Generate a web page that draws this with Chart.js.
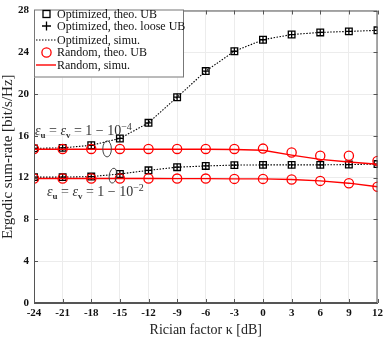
<!DOCTYPE html>
<html>
<head>
<meta charset="utf-8">
<script src="https://cdn.jsdelivr.net/npm/chart.js@4/dist/chart.umd.min.js"></script>
<style>
  html, body { margin: 0; padding: 0; background: #fff; }
  canvas { display: block; }
</style>
</head>
<body>
<canvas id="js-canvas-rate" width="388" height="337"></canvas>
<script>
// Rician factor kappa [dB] along the x-axis
const kappa = [-24, -21, -18, -15, -12, -9, -6, -3, 0, 3, 6, 9, 12];
// Optimized phase shifts: theo. UB, loose UB and simulation coincide
const optHigh = [14.8, 14.85, 15.1, 15.75, 17.25, 19.7, 22.2, 24.1, 25.2, 25.7, 25.9, 26.0, 26.1];
const optLow = [12.05, 12.05, 12.1, 12.35, 12.7, 13.0, 13.12, 13.2, 13.22, 13.22, 13.22, 13.25, 13.3];
// Random phase shifts
const randHighTheo = [14.75, 14.75, 14.75, 14.75, 14.75, 14.75, 14.75, 14.75, 14.78, 14.4, 14.1, 14.1, 13.6];
const randHighSim = [14.72, 14.72, 14.72, 14.72, 14.72, 14.72, 14.72, 14.7, 14.62, 14.16, 13.75, 13.5, 13.28];
const randLowTheo = [11.92, 11.92, 11.92, 11.92, 11.92, 11.91, 11.91, 11.88, 11.88, 11.82, 11.69, 11.47, 11.13];
const randLowSim = [11.92, 11.92, 11.92, 11.92, 11.92, 11.91, 11.91, 11.88, 11.88, 11.82, 11.69, 11.47, 11.13];
// axis ranges
const xRange = [-24, 12, 3];
const yRange = [0, 28, 4];

const serif = "'Liberation Serif', 'Times New Roman', serif";
Chart.defaults.font.family = serif;
Chart.defaults.color = '#222';

const pts = ys => kappa.map((k, i) => ({ x: k, y: ys[i] }));

const black = '#000';
const red = '#ff0000';

const squares = ys => ({ data: pts(ys), showLine: false, pointStyle: 'rect', pointRadius: 4.7,
  borderColor: black, backgroundColor: 'transparent', pointBorderWidth: 1.3, order: 2 });
const crosses = ys => ({ data: pts(ys), showLine: false, pointStyle: 'cross', pointRadius: 3.4,
  borderColor: black, pointBorderWidth: 1.3, order: 2 });
const dotted = ys => ({ data: pts(ys), borderColor: black, borderWidth: 1.1, borderDash: [1.5, 1.5],
  pointRadius: 0, fill: false, order: 3 });
const circles = ys => ({ data: pts(ys), showLine: false, pointStyle: 'circle', pointRadius: 4.6,
  borderColor: red, backgroundColor: 'transparent', pointBorderWidth: 1.3, order: 0 });
const redLine = ys => ({ data: pts(ys), borderColor: red, borderWidth: 1.4, pointRadius: 0, fill: false, order: 1 });

// legend drawn inside the plot, top-left
const legendItems = [
  { label: 'Optimized, theo. UB', kind: 'rect' },
  { label: 'Optimized, theo. loose UB', kind: 'cross' },
  { label: 'Optimized, simu.', kind: 'dotted' },
  { label: 'Random, theo. UB', kind: 'circle' },
  { label: 'Random, simu.', kind: 'line' }
];

const framePlugin = {
  id: 'frame',
  afterDatasetsDraw(chart) {
    const { ctx, chartArea: a, scales } = chart;
    ctx.save();
    // box + inward ticks
    ctx.strokeStyle = '#555';
    ctx.lineWidth = 1;
    ctx.strokeRect(a.left + 0.5, a.top + 0.5, a.right - a.left - 1, a.bottom - a.top - 1);
    ctx.beginPath();
    for (let v = xRange[0]; v <= xRange[1]; v += xRange[2]) {
      const px = Math.round(scales.x.getPixelForValue(v)) + 0.5;
      ctx.moveTo(px, a.bottom); ctx.lineTo(px, a.bottom - 4);
      ctx.moveTo(px, a.top); ctx.lineTo(px, a.top + 4);
    }
    for (let v = yRange[0]; v <= yRange[1]; v += yRange[2]) {
      const py = Math.round(scales.y.getPixelForValue(v)) + 0.5;
      ctx.moveTo(a.left, py); ctx.lineTo(a.left + 4, py);
      ctx.moveTo(a.right, py); ctx.lineTo(a.right - 4, py);
    }
    ctx.stroke();

    // ellipses marking the two groups
    ctx.strokeStyle = '#444';
    ctx.lineWidth = 1;
    ctx.beginPath();
    ctx.ellipse(scales.x.getPixelForValue(-16.34), scales.y.getPixelForValue(14.75), 4.3, 8, 0, 0, Math.PI * 2);
    ctx.stroke();
    ctx.beginPath();
    ctx.ellipse(scales.x.getPixelForValue(-15.72), scales.y.getPixelForValue(12.19), 3.8, 7.5, 0.15, 0, Math.PI * 2);
    ctx.stroke();

    // math labels
    const mathLabel = (x, y, sup) => {
      const parts = [
        ['italic 14px ' + serif, 'ε', 0],
        ['bold 9px ' + serif, 'u', 3],
        ['14px ' + serif, ' = ', 0],
        ['italic 14px ' + serif, 'ε', 0],
        ['bold 9px ' + serif, 'v', 3],
        ['14px ' + serif, ' = 1 − 10', 0],
        ['10px ' + serif, '−' + sup, -5]
      ];
      ctx.fillStyle = '#333';
      ctx.textBaseline = 'alphabetic';
      ctx.textAlign = 'left';
      let cx = x;
      for (const [f, t, dy] of parts) {
        ctx.font = f;
        ctx.fillText(t, cx, y + dy);
        cx += ctx.measureText(t).width;
      }
    };
    mathLabel(a.left + 1, 135, '4');
    mathLabel(a.left + 13, 196, '2');

    // legend box
    const lx = a.left, ly = a.top - 1, lw = 150, lh = 68;
    ctx.fillStyle = '#fff';
    ctx.fillRect(lx, ly, lw, lh);
    ctx.strokeStyle = '#777';
    ctx.lineWidth = 1;
    ctx.strokeRect(lx + 0.5, ly + 0.5, lw - 1, lh - 1);
    const rows = [14, 26, 40, 52.5, 65];
    legendItems.forEach((it, i) => {
      const y = rows[i];
      const mx = 46.5;
      ctx.save();
      ctx.lineWidth = 1.3;
      if (it.kind === 'rect') {
        ctx.strokeStyle = black;
        ctx.strokeRect(mx - 3.5, y - 3.5, 7, 7);
      } else if (it.kind === 'cross') {
        ctx.strokeStyle = black;
        ctx.beginPath();
        ctx.moveTo(mx - 4.5, y); ctx.lineTo(mx + 4.5, y);
        ctx.moveTo(mx, y - 4.5); ctx.lineTo(mx, y + 4.5);
        ctx.stroke();
      } else if (it.kind === 'dotted') {
        ctx.strokeStyle = black;
        ctx.lineWidth = 1.1;
        ctx.setLineDash([1.5, 1.5]);
        ctx.beginPath(); ctx.moveTo(36, y); ctx.lineTo(56, y); ctx.stroke();
      } else if (it.kind === 'circle') {
        ctx.strokeStyle = red;
        ctx.beginPath(); ctx.arc(mx, y, 4.6, 0, Math.PI * 2); ctx.stroke();
      } else {
        ctx.strokeStyle = red;
        ctx.lineWidth = 1.4;
        ctx.beginPath(); ctx.moveTo(36, y); ctx.lineTo(56, y); ctx.stroke();
      }
      ctx.restore();
      ctx.fillStyle = '#111';
      ctx.font = '12px ' + serif;
      ctx.textBaseline = 'middle';
      ctx.textAlign = 'left';
      ctx.fillText(it.label, 57, y + 0.5);
    });
    ctx.restore();
  }
};

const ctx = document.getElementById('js-canvas-rate');
new Chart(ctx, {
  type: 'line',
  data: {
    datasets: [
      squares(optHigh), squares(optLow),
      crosses(optHigh), crosses(optLow),
      dotted(optHigh), dotted(optLow),
      circles(randHighTheo), circles(randLowTheo),
      redLine(randHighSim), redLine(randLowSim)
    ]
  },
  options: {
    responsive: false,
    animation: false,
    layout: { padding: { top: 6, right: 7, left: 0, bottom: 0 } },
    plugins: { legend: { display: false }, tooltip: { enabled: false } },
    scales: {
      x: {
        type: 'linear',
        min: xRange[0], max: xRange[1],
        ticks: { stepSize: xRange[2], padding: 5, color: '#111', font: { size: 11, weight: 'bold', lineHeight: 1 } },
        grid: { color: '#ececec', drawTicks: false },
        border: { color: '#555' },
        title: { display: true, text: 'Rician factor κ [dB]', color: '#222', font: { size: 14, lineHeight: 1 }, padding: { top: 3, bottom: 0 } },
        afterFit: s => { s.height = 34; }
      },
      y: {
        min: yRange[0], max: yRange[1],
        ticks: { stepSize: yRange[2], padding: 5, color: '#111', font: { size: 11, weight: 'bold', lineHeight: 1 } },
        grid: { color: '#ececec', drawTicks: false },
        border: { color: '#555' },
        title: { display: true, text: 'Ergodic sum-rate [bit/s/Hz]', color: '#222', font: { size: 15, lineHeight: 1 }, padding: { top: 1, bottom: 2 } },
        afterFit: s => { s.width = 34; }
      }
    }
  },
  plugins: [framePlugin]
});
</script>
</body>
</html>
